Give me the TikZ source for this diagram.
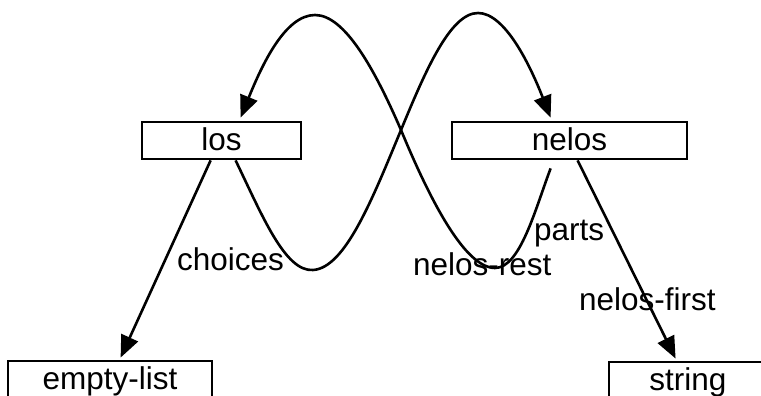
\documentclass[tikz,border=0pt]{standalone}
\usepackage{fontspec}
\setmainfont{Liberation Sans}
\usetikzlibrary{arrows.meta,calc}
\begin{document}
\begin{tikzpicture}[x=1pt,y=-1pt,
  box/.style={draw,line width=2.8pt,inner sep=0pt,minimum height=37pt,text height=23pt,text depth=4pt,font=\fontsize{31.5}{36}\selectfont},
  lbl/.style={inner sep=0pt,anchor=base west,font=\fontsize{31.5}{36}\selectfont},
  conn/.style={line width=2.6pt,-{Triangle[length=22pt,width=18pt]}}]
\useasboundingbox (0,0) rectangle (761,396);
\clip (0,0) rectangle (761,396);
\node[box,minimum width=159pt] (los) at (221.5,140.5) {los};
\node[box,minimum width=235pt] (nelos) at (569.5,140.5) {nelos};
\node[box,minimum width=204pt] (empty) at (110,379.5) {empty-list};
\node[box,minimum width=158pt] (string) at (688,380.5) {string};
\draw[conn] ($(los.south west)+(95,0)$) .. controls (262,215) and (285,272) .. (313,270)
  .. controls (345,268) and (372,200) .. (401,130)
  .. controls (425,72) and (450,13) .. (478,13)
  .. controls (505,13) and (530,65) .. ($(nelos.north west)+(100,-3)$);
\draw[conn] ($(nelos.south west)+(100,8)$) .. controls (535,210) and (520,268) .. (495,268)
  .. controls (465,268) and (430,200) .. (401,130)
  .. controls (375,70) and (345,15) .. (315,15)
  .. controls (285,15) and (262,65) .. ($(los.north west)+(100,-3)$);
\draw[conn] ($(los.south west)+(70,0)$) -- ($(empty.north west)+(114,-2)$);
\draw[conn] ($(nelos.south west)+(127,0)$) -- ($(string.north west)+(68,-2)$);
\node[lbl] (choices) at (177,270) {choices};
\node[lbl] (parts) at (534,240) {parts};
\node[lbl] (nrest) at (413,275) {nelos-rest};
\node[lbl] (nfirst) at (579,310) {nelos-first};
\end{tikzpicture}
\end{document}
